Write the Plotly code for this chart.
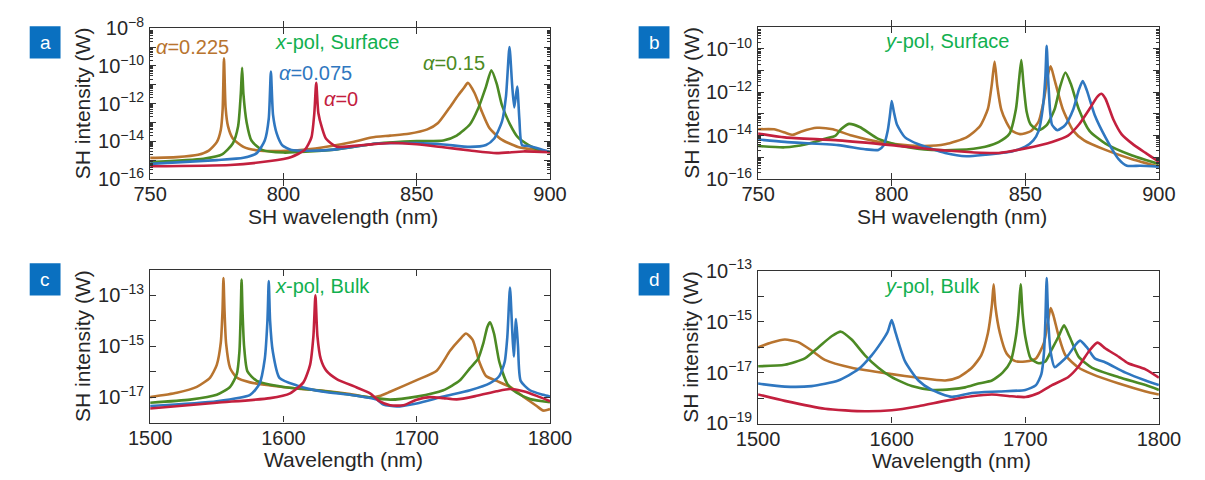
import plotly.graph_objects as go

W, H = 1205, 480

# ---------------- data (wavelength in nm, log10 of SH intensity in W) -------------
# Panel a: x-pol, Surface
a_brown_x = [750, 760, 768, 772, 775, 776.5, 777.2, 777.7, 778.3, 779.2, 781, 785, 790, 799, 812, 826, 833, 840, 847, 854, 858, 862, 865.5, 867.6, 869.2, 871.7, 874.5, 877.2, 881.4, 888, 895, 900]
a_brown_lg = [-14.88, -14.84, -14.72, -14.5, -14.05, -13.4, -12.3, -9.6, -12.2, -13.2, -13.85, -14.3, -14.48, -14.52, -14.38, -14.04, -13.8, -13.7, -13.6, -13.37, -13.03, -12.28, -11.57, -11.19, -10.9, -11.44, -12.45, -13.28, -13.87, -14.3, -14.46, -14.58]
a_green_x = [750, 770, 777, 781, 783, 784, 784.5, 785, 786.2, 788, 792, 800, 820, 835, 850, 860, 865, 870, 873, 876, 878, 880, 882, 885, 888, 892, 896, 900]
a_green_lg = [-15.1, -14.93, -14.7, -14.12, -13.2, -11.5, -10.1, -11.5, -13.0, -13.96, -14.46, -14.6, -14.43, -14.12, -13.99, -13.96, -13.7, -13.1, -12.28, -11.1, -10.23, -10.94, -12.1, -13.1, -13.8, -14.2, -14.46, -14.58]
a_blue_x = [750, 775, 785, 790, 793, 794.5, 795.3, 796.1, 797.5, 799.5, 803, 810, 820, 835, 850, 860, 870, 876, 879, 882, 883.5, 884.8, 885.8, 886.6, 887.7, 888.5, 889.5, 892, 896, 900]
a_blue_lg = [-15.2, -15.0, -14.88, -14.63, -13.96, -12.8, -10.3, -12.6, -13.6, -14.2, -14.46, -14.5, -14.43, -14.12, -14.1, -14.17, -14.3, -14.2, -13.87, -12.95, -11.6, -9.0, -11.0, -12.2, -11.1, -12.8, -14.2, -14.25, -14.4, -14.58]
a_red_x = [750, 780, 795, 803, 808, 810.5, 811.6, 812.3, 813.1, 814.5, 816, 820, 830, 840, 850, 860, 870, 880, 890, 900]
a_red_lg = [-15.33, -15.26, -15.05, -14.83, -14.46, -13.8, -12.5, -10.9, -12.5, -13.3, -13.87, -14.29, -14.2, -14.09, -14.16, -14.32, -14.49, -14.63, -14.54, -14.58]

# Panel b: y-pol, Surface
b_brown_x = [750, 756, 760, 763, 766, 772, 778, 785, 795, 805, 812, 820, 828, 833, 836, 837.5, 838.5, 839.5, 841, 843, 845, 848, 852, 855, 857, 858.5, 859.5, 861, 864, 868, 872, 880, 890, 900]
b_brown_lg = [-13.71, -13.71, -13.86, -13.96, -13.82, -13.64, -13.71, -14.0, -14.29, -14.44, -14.48, -14.4, -14.08, -13.57, -12.77, -11.6, -10.58, -11.7, -12.8, -13.4, -13.78, -13.93, -13.8, -13.35, -12.33, -11.16, -10.8, -11.45, -12.77, -13.78, -14.22, -14.66, -15.09, -15.43]
b_green_x = [750, 760, 768, 775, 779, 781, 784, 788, 795, 805, 815, 825, 835, 840, 844, 846.5, 847.6, 848.5, 849.3, 850.5, 852, 855, 858, 861, 863, 865, 867, 870, 874, 880, 890, 900]
b_green_lg = [-14.48, -14.54, -14.4, -14.15, -14.0, -13.71, -13.46, -13.6, -14.15, -14.51, -14.66, -14.66, -14.51, -14.3, -13.93, -12.77, -11.5, -10.51, -11.6, -12.9, -13.49, -13.75, -13.52, -12.77, -11.75, -11.09, -11.6, -12.77, -13.78, -14.37, -14.92, -15.31]
b_blue_x = [750, 760, 780, 790, 795, 797, 798.5, 799.4, 800, 800.8, 802, 805, 810, 820, 828, 835, 845, 850, 853, 855, 856.5, 857.5, 858, 858.6, 859.3, 860, 862, 865, 868, 870, 871.5, 873, 876, 880, 885, 888, 893, 900]
b_blue_lg = [-14.18, -14.29, -14.44, -14.63, -14.66, -14.45, -13.78, -13.0, -12.4, -12.9, -13.5, -14.08, -14.4, -14.8, -14.95, -14.88, -14.73, -14.51, -14.22, -13.78, -12.77, -11.3, -9.85, -11.5, -12.9, -13.5, -13.75, -13.5, -12.77, -11.9, -11.48, -11.9, -13.06, -14.08, -15.1, -15.39, -15.39, -15.43]
b_red_x = [750, 760, 780, 800, 820, 840, 850, 860, 866, 870, 874, 877, 878.5, 880, 883, 886, 890, 895, 900]
b_red_lg = [-13.9, -14.08, -14.22, -14.44, -14.69, -14.8, -14.59, -14.29, -14.0, -13.5, -12.77, -12.2, -12.07, -12.3, -13.27, -13.93, -14.37, -14.8, -15.21]

# Panel c: x-pol, Bulk
c_brown_x = [1500, 1520, 1535, 1545, 1550, 1553, 1554.3, 1555, 1555.8, 1557, 1560, 1565, 1575, 1590, 1610, 1630, 1650, 1665, 1672, 1680, 1700, 1715, 1725, 1732, 1737, 1742, 1747, 1752, 1760, 1770, 1780, 1790, 1795, 1800]
c_brown_lg = [-17.0, -16.83, -16.6, -16.23, -15.73, -14.86, -13.6, -12.32, -13.6, -14.9, -15.86, -16.23, -16.42, -16.54, -16.66, -16.75, -16.88, -17.01, -16.96, -16.79, -16.33, -15.96, -15.18, -14.75, -14.5, -14.75, -15.62, -16.17, -16.36, -16.6, -16.98, -17.35, -17.53, -17.47]
c_green_x = [1500, 1530, 1550, 1560, 1565, 1567, 1568, 1568.6, 1569.3, 1570.5, 1573, 1580, 1600, 1620, 1640, 1660, 1680, 1700, 1720, 1732, 1740, 1746, 1750, 1753, 1755, 1758, 1762, 1768, 1775, 1785, 1800]
c_green_lg = [-17.22, -17.1, -16.91, -16.6, -16.1, -15.2, -13.6, -12.38, -13.6, -15.0, -15.99, -16.36, -16.6, -16.7, -16.83, -16.98, -17.1, -16.98, -16.73, -16.36, -15.86, -15.5, -14.88, -14.24, -14.06, -14.5, -15.62, -16.48, -16.83, -17.07, -17.2]
c_blue_x = [1500, 1550, 1575, 1582, 1586, 1588, 1589, 1590, 1592, 1597, 1610, 1630, 1650, 1670, 1675, 1685, 1700, 1720, 1740, 1755, 1762, 1766, 1768, 1770, 1771.5, 1772.8, 1774.5, 1776, 1778, 1785, 1795, 1800]
c_blue_lg = [-17.35, -17.16, -16.91, -16.48, -15.5, -14.0, -12.44, -14.0, -15.2, -16.24, -16.54, -16.79, -16.91, -17.1, -17.29, -17.37, -17.25, -16.98, -16.73, -16.45, -16.17, -15.62, -14.62, -12.69, -14.2, -15.4, -13.93, -15.0, -16.36, -16.73, -16.91, -16.98]
c_red_x = [1500, 1550, 1590, 1605, 1615, 1620, 1622.5, 1624, 1625.5, 1628, 1632, 1640, 1655, 1665, 1672, 1680, 1690, 1700, 1710, 1720, 1730, 1745, 1760, 1770, 1780, 1790, 1800]
c_red_lg = [-17.45, -17.22, -17.04, -16.85, -16.42, -15.73, -14.6, -13.0, -14.6, -15.5, -15.95, -16.29, -16.62, -16.85, -17.16, -17.32, -17.32, -17.1, -17.0, -17.04, -17.09, -16.95, -16.77, -16.68, -16.77, -16.95, -17.16]

# Panel d: y-pol, Bulk
d_brown_x = [1500, 1510, 1520, 1530, 1540, 1550, 1570, 1600, 1620, 1640, 1650, 1660, 1667, 1672, 1675, 1676.3, 1677.6, 1681, 1686, 1692, 1700, 1708, 1714, 1717, 1719, 1721, 1725, 1730, 1740, 1750, 1770, 1790, 1800]
d_brown_lg = [-16.01, -15.82, -15.7, -15.8, -16.13, -16.5, -16.81, -17.06, -17.2, -17.31, -17.18, -16.81, -16.32, -15.45, -14.34, -13.53, -14.4, -15.45, -16.25, -16.54, -16.56, -16.44, -15.82, -14.96, -14.46, -14.75, -15.57, -16.32, -16.81, -17.06, -17.43, -17.74, -17.86]
d_green_x = [1500, 1520, 1535, 1545, 1555, 1562, 1570, 1580, 1590, 1600, 1615, 1630, 1645, 1655, 1665, 1675, 1683, 1689, 1693, 1695, 1696.5, 1698, 1700, 1704, 1710, 1715, 1720, 1725, 1729, 1733, 1740, 1750, 1770, 1790, 1800]
d_green_lg = [-16.75, -16.69, -16.44, -16.01, -15.57, -15.39, -15.7, -16.32, -16.81, -17.18, -17.53, -17.68, -17.65, -17.58, -17.43, -17.31, -17.0, -16.56, -15.57, -14.6, -13.53, -14.7, -15.6, -16.44, -16.63, -16.56, -16.07, -15.57, -15.14, -15.57, -16.38, -16.81, -17.18, -17.49, -17.68]
d_blue_x = [1500, 1520, 1540, 1560, 1575, 1585, 1592, 1597, 1600, 1603, 1610, 1620, 1630, 1645, 1660, 1680, 1700, 1708, 1712, 1714, 1715, 1716, 1717.2, 1719, 1722, 1726, 1732, 1738, 1741, 1746, 1752, 1760, 1775, 1790, 1800]
d_blue_lg = [-17.43, -17.55, -17.53, -17.31, -16.87, -16.32, -15.82, -15.39, -14.93, -15.45, -16.56, -17.31, -17.68, -17.95, -17.8, -17.74, -17.68, -17.49, -17.06, -16.19, -15.0, -13.28, -15.0, -16.2, -16.79, -16.63, -16.32, -15.88, -15.74, -16.0, -16.44, -16.6, -17.0, -17.31, -17.49]
d_red_x = [1500, 1520, 1550, 1580, 1600, 1620, 1640, 1660, 1675, 1690, 1700, 1710, 1720, 1732, 1740, 1748, 1754, 1760, 1770, 1777, 1790, 1800]
d_red_lg = [-17.86, -18.11, -18.42, -18.52, -18.48, -18.32, -18.11, -17.93, -17.86, -17.93, -17.96, -17.8, -17.49, -17.18, -16.75, -16.13, -15.82, -16.05, -16.38, -16.63, -16.87, -17.2]

# axis settings (log10 ranges and decade ticks)
panel_letters = ["a", "b", "c", "d"]
panel_titles = ["<i>x</i>-pol, Surface", "<i>y</i>-pol, Surface", "<i>x</i>-pol, Bulk", "<i>y</i>-pol, Bulk"]
x_titles = ["SH wavelength (nm)", "SH wavelength (nm)", "Wavelength (nm)", "Wavelength (nm)"]
y_title = "SH intensity (W)"
x_ranges = [[750, 900], [750, 900], [1500, 1800], [1500, 1800]]
x_tickvals = [[750, 800, 850, 900], [750, 800, 850, 900], [1500, 1600, 1700, 1800], [1500, 1600, 1700, 1800]]
y_ranges = [[-16, -8], [-16, -9], [-18, -12], [-19, -13]]
y_label_exps = [[-16, -14, -12, -10, -8], [-16, -14, -12, -10], [-17, -15, -13], [-19, -17, -15, -13]]
alpha_labels = ["<i>α</i>=0.225", "<i>α</i>=0.15", "<i>α</i>=0.075", "<i>α</i>=0"]

COL = {"brown": "#b8742f", "green": "#4c8a24", "blue": "#2f77c0", "red": "#c3203e"}
LABEL_GREEN = "#11b04f"
FONT = "Liberation Sans, Arial, sans-serif"
AX = "#333333"
TXT = "#262626"

data = [
    [(a_brown_x, a_brown_lg, "brown"), (a_green_x, a_green_lg, "green"), (a_blue_x, a_blue_lg, "blue"), (a_red_x, a_red_lg, "red")],
    [(b_brown_x, b_brown_lg, "brown"), (b_green_x, b_green_lg, "green"), (b_blue_x, b_blue_lg, "blue"), (b_red_x, b_red_lg, "red")],
    [(c_brown_x, c_brown_lg, "brown"), (c_green_x, c_green_lg, "green"), (c_blue_x, c_blue_lg, "blue"), (c_red_x, c_red_lg, "red")],
    [(d_brown_x, d_brown_lg, "brown"), (d_green_x, d_green_lg, "green"), (d_blue_x, d_blue_lg, "blue"), (d_red_x, d_red_lg, "red")],
]

# pixel layout of plot areas (left, right, top, bottom)
boxes = [(133, 548, 15, 174), (764, 1180, 14, 174), (133, 548, 270, 431), (764, 1180, 271, 432)]

fig = go.Figure()
layout = dict(width=W, height=H, autosize=False, margin=dict(l=0, r=0, t=0, b=0),
              paper_bgcolor="white", plot_bgcolor="white", showlegend=False)


def px(x):
    return x / W


def py(y):
    return 1 - y / H


def sup(e):
    return "10<sup>%s</sup>" % (("−%d" % -e) if e < 0 else str(e))


shapes = []
annotations = []
for i in range(4):
    n = "" if i == 0 else str(i + 1)
    xa, ya = "x" + n, "y" + n
    for xs, lg, c in data[i]:
        fig.add_trace(go.Scatter(x=xs, y=[10 ** v for v in lg], mode="lines",
                                 line=dict(color=COL[c], width=2.6, shape="spline", smoothing=0.6),
                                 xaxis=xa, yaxis=ya, hoverinfo="skip"))
    l, r, t, b = boxes[i]
    lo, hi = y_ranges[i]
    decades = list(range(lo, hi + 1))
    major = [10.0 ** e for e in decades]
    major_txt = [sup(e) if e in y_label_exps[i] else "" for e in decades]
    common = dict(showline=True, linecolor=AX, linewidth=1.2, mirror="allticks", ticks="inside",
                  tickcolor=AX, tickwidth=1.2, showgrid=False, zeroline=False,
                  tickfont=dict(family=FONT, size=20, color=TXT))
    layout["xaxis" + n] = dict(common, domain=[px(l), px(r)], range=x_ranges[i], anchor=ya,
                               tickmode="array", tickvals=x_tickvals[i], ticklen=6,
                               ticklabelstandoff=-3)
    layout["yaxis" + n] = dict(common, domain=[py(b), py(t)], type="log", range=[lo, hi], anchor=xa,
                               tickmode="array", tickvals=major, ticktext=major_txt,
                               ticklen=6, ticklabelstandoff=1)
    # minor log ticks for the surface panels (overlay axes on both sides)
    if i < 2:
        minor_vals = [m * 10.0 ** e for e in range(lo, hi) for m in range(2, 10)]
        for k, side in enumerate(["left", "right"]):
            key = "yaxis%d" % (5 + 2 * i + k)
            layout[key] = dict(overlaying=ya, anchor=xa, side=side, type="log", range=[lo, hi],
                               domain=[py(b), py(t)], tickmode="array", tickvals=minor_vals,
                               ticktext=[""] * len(minor_vals), showticklabels=False,
                               ticks="inside", ticklen=3, tickcolor=AX, tickwidth=1,
                               showline=False, showgrid=False, zeroline=False)
    # panel letter box
    bx = 8 if i in (0, 2) else 640
    by = 13 if i < 2 else 263
    shapes.append(dict(type="rect", xref="paper", yref="paper", x0=px(bx), x1=px(bx + 32),
                       y0=py(by + 34), y1=py(by), fillcolor="#0a70c0", line=dict(width=0)))
    annotations.append(dict(text=panel_letters[i], xref="paper", yref="paper", x=px(bx + 16), y=py(by + 17),
                            showarrow=False, font=dict(family=FONT, size=19, color="white"),
                            xanchor="center", yanchor="middle"))
    # axis titles
    annotations.append(dict(text=y_title, xref="paper", yref="paper", x=px(l - 70), y=py((t + b) / 2),
                            textangle=-90, showarrow=False, font=dict(family=FONT, size=21, color=TXT),
                            xanchor="center", yanchor="middle"))
    annotations.append(dict(text=x_titles[i], xref="paper", yref="paper", x=px((l + r) / 2 - 7),
                            y=py(b + 40 if i < 2 else b + 39),
                            showarrow=False, font=dict(family=FONT, size=21, color=TXT),
                            xanchor="center", yanchor="middle"))

# invisible traces so the overlay axes are drawn
for i in range(2):
    n = "" if i == 0 else str(i + 1)
    for k in range(2):
        fig.add_trace(go.Scatter(x=[x_ranges[i][0]], y=[10.0 ** y_ranges[i][0]], mode="markers",
                                 marker=dict(size=1, opacity=0), xaxis="x" + n,
                                 yaxis="y%d" % (5 + 2 * i + k), hoverinfo="skip"))

# panel headings
heading_pos = [(260, 30), (893, 28), (260, 287), (893, 287)]
for i, (hx, hy) in enumerate(heading_pos):
    annotations.append(dict(text=panel_titles[i], xref="paper", yref="paper", x=px(hx), y=py(hy),
                            showarrow=False, font=dict(family=FONT, size=20, color=LABEL_GREEN),
                            xanchor="left", yanchor="middle"))

# alpha labels in panel a
alpha_pos = [(137, 35, "brown"), (414, 52, "green"), (265, 62, "blue"), (311, 90, "red")]
for txt, (ax_, ay_, c) in zip(alpha_labels, alpha_pos):
    annotations.append(dict(text=txt, xref="paper", yref="paper", x=px(ax_), y=py(ay_), showarrow=False,
                            font=dict(family=FONT, size=20, color=COL[c]), xanchor="left", yanchor="middle"))

layout["shapes"] = shapes
layout["annotations"] = annotations
fig.update_layout(**layout)
fig.write_html("out.html")
